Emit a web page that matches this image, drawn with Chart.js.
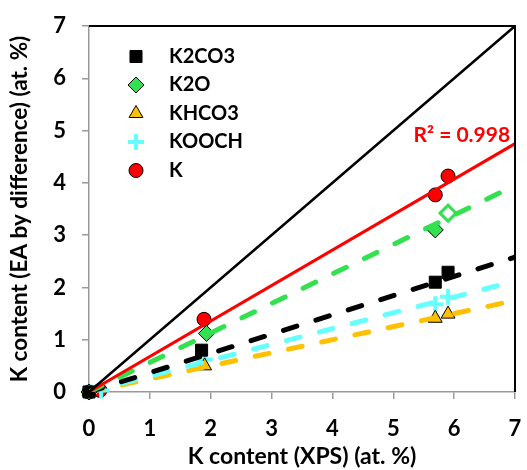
<!DOCTYPE html>
<html>
<head>
<meta charset="utf-8">
<script src="https://cdn.jsdelivr.net/npm/chart.js@4.4.1/dist/chart.umd.min.js"></script>
<style>
    html, body { margin: 0; padding: 0; background: #fff; }
</style>
</head>
<body>
<canvas id="graficoK" width="527" height="470"></canvas>
<script>
// Datos
const xK2CO3 = [0, 1.85, 5.69, 5.9];
const yK2CO3 = [0, 0.8, 2.1, 2.29];

const xK2O = [0, 1.93, 5.69, 5.9];
const yK2O = [0, 1.12, 3.1, 3.42];

const xKHCO3 = [0, 1.9, 5.69, 5.9];
const yKHCO3 = [0, 0.5, 1.41, 1.49];

const xKOOCH = [0, 0.2, 1.9, 5.69, 5.9];
const yKOOCH = [0, 0.03, 0.62, 1.68, 1.82];

const xK = [0, 0.18, 1.89, 5.69, 5.9];
const yK = [0, 0.03, 1.39, 3.77, 4.13];

// Líneas de tendencia (extremos x = 0 y x = 7)
const xTend = [0, 7];
const yIdentidad = [0, 7];
const yTendK = [0, 4.75];
const yTendK2O = [0, 3.95];
const yTendK2CO3 = [0, 2.58];
const yTendKOOCH = [0, 2.12];
const yTendKHCO3 = [0, 1.75];

const ticksEje = [0, 1, 2, 3, 4, 5, 6, 7];
const textoR2 = 'R² = 0.998';

const verde = '#33e04f';
const cian = '#66ffff';
const naranja = '#ffc000';
const rojo = '#ff0000';

const puntos = (xs, ys) => xs.map((v, i) => ({ x: v, y: ys[i] }));

const fuenteTicks = { family: 'Lato', size: 22, weight: 'bold' };
const fuenteTitulo = { family: 'Lato', size: 23, weight: 'bold' };

const lineaTend = (label, ys, color, ancho, dash) => ({
    label: label,
    data: puntos(xTend, ys),
    showLine: true,
    pointRadius: 0,
    borderColor: color,
    borderWidth: ancho,
    borderDash: dash,
    borderCapStyle: 'round',
    order: 0,
});

const datasets = [
    {
        label: 'K2CO3',
        data: puntos(xK2CO3, yK2CO3),
        pointStyle: 'rect',
        pointRadius: 8.5,
        backgroundColor: '#000',
        borderColor: '#000',
        borderWidth: 1,
        clip: false,
        order: 2,
    },
    {
        label: 'K2O',
        data: puntos(xK2O, yK2O),
        pointStyle: 'rectRot',
        pointRadius: 8,
        backgroundColor: [verde, verde, verde, '#fff'],
        borderColor: ['#000', '#000', '#000', verde],
        borderWidth: [1, 1, 1, 3],
        clip: false,
        order: 2,
    },
    {
        label: 'KHCO3',
        data: puntos(xKHCO3, yKHCO3),
        pointStyle: 'triangle',
        pointRadius: 8,
        backgroundColor: naranja,
        borderColor: '#000',
        borderWidth: 1,
        clip: false,
        order: 2,
    },
    {
        label: 'KOOCH',
        data: puntos(xKOOCH, yKOOCH),
        pointStyle: 'cross',
        pointRadius: 8,
        borderColor: cian,
        borderWidth: 4,
        clip: false,
        order: 2,
    },
    {
        label: 'K',
        data: puntos(xK, yK),
        pointStyle: 'circle',
        pointRadius: 7,
        backgroundColor: rojo,
        borderColor: '#000',
        borderWidth: 1,
        clip: false,
        order: 2,
    },
    lineaTend('y=x', yIdentidad, '#000', 2.5, []),
    lineaTend('tend K', yTendK, rojo, 3, []),
    lineaTend('tend K2O', yTendK2O, verde, 5, [14, 20]),
    lineaTend('tend K2CO3', yTendK2CO3, '#000', 5, [14, 20]),
    lineaTend('tend KOOCH', yTendKOOCH, cian, 5, [14, 20]),
    lineaTend('tend KHCO3', yTendKHCO3, naranja, 5, [14, 20]),
];

// Leyenda dentro del área, borde superior/derecho y texto R²
const extras = {
    id: 'extras',
    afterDatasetsDraw(chart) {
        const { ctx, chartArea: a, scales } = chart;
        ctx.save();

        ctx.strokeStyle = '#000';
        ctx.lineWidth = 2;
        ctx.beginPath();
        ctx.moveTo(a.left, a.top);
        ctx.lineTo(a.right, a.top);
        ctx.lineTo(a.right, a.bottom);
        ctx.stroke();

        ctx.fillStyle = rojo;
        ctx.font = 'bold 21px Lato';
        ctx.textAlign = 'right';
        ctx.textBaseline = 'alphabetic';
        ctx.fillText(textoR2, scales.x.getPixelForValue(6.92), scales.y.getPixelForValue(4.78));

        for (let i = 0; i < 5; i++) {
            const ds = chart.data.datasets[i];
            const py = a.top + 30.5 + i * 28.5;
            const px = a.left + 47;
            const bg = Array.isArray(ds.backgroundColor) ? ds.backgroundColor[0] : ds.backgroundColor;
            const bc = Array.isArray(ds.borderColor) ? ds.borderColor[0] : ds.borderColor;
            const bw = Array.isArray(ds.borderWidth) ? ds.borderWidth[0] : ds.borderWidth;
            ctx.fillStyle = bg || bc;
            ctx.strokeStyle = bc;
            ctx.lineWidth = bw;
            Chart.helpers.drawPoint(ctx, {
                pointStyle: ds.pointStyle,
                radius: ds.pointRadius,
                borderWidth: bw,
                rotation: 0,
            }, px, py);

            ctx.fillStyle = '#000';
            ctx.font = 'bold 20px Lato';
            ctx.textAlign = 'left';
            ctx.textBaseline = 'middle';
            ctx.fillText(ds.label, a.left + 80, py);
        }
        ctx.restore();
    }
};

const config = {
    type: 'scatter',
    data: { datasets: datasets },
    options: {
        responsive: false,
        animation: false,
        layout: { padding: { top: 26, right: -1, left: 0, bottom: 0 } },
        plugins: {
            legend: { display: false },
            tooltip: { enabled: false },
        },
        scales: {
            x: {
                type: 'linear',
                min: 0,
                max: 7,
                afterBuildTicks: (axis) => { axis.ticks = ticksEje.map(v => ({ value: v })); },
                afterFit: (axis) => {
                    axis.height = 78;
                    axis.paddingRight = 0;
                    axis.paddingLeft = 0;
                },
                ticks: { color: '#000', font: fuenteTicks, padding: 17 },
                grid: { drawOnChartArea: false, color: '#999', lineWidth: 1.5, tickLength: 7 },
                border: { color: '#999', width: 1.5 },
                title: {
                    display: true,
                    text: 'K content (XPS) (at. %)',
                    color: '#000',
                    font: fuenteTitulo,
                    padding: { top: 0, bottom: 0 },
                },
            },
            y: {
                type: 'linear',
                min: 0,
                max: 7,
                afterBuildTicks: (axis) => { axis.ticks = ticksEje.map(v => ({ value: v })); },
                afterFit: (axis) => {
                    axis.width = 89;
                    axis.paddingTop = 0;
                    axis.paddingBottom = 0;
                },
                ticks: { color: '#000', font: fuenteTicks, padding: 16 },
                grid: { drawOnChartArea: false, color: '#999', lineWidth: 1.5, tickLength: 7 },
                border: { color: '#999', width: 1.5 },
                title: {
                    display: true,
                    text: 'K content (EA by difference) (at. %)',
                    color: '#000',
                    font: { family: 'Lato', size: 22.5, weight: 'bold' },
                    padding: { top: 6, bottom: 0 },
                },
            },
        },
    },
    plugins: [extras],
};

const miGrafico = new Chart(document.getElementById('graficoK'), config);
</script>
</body>
</html>
